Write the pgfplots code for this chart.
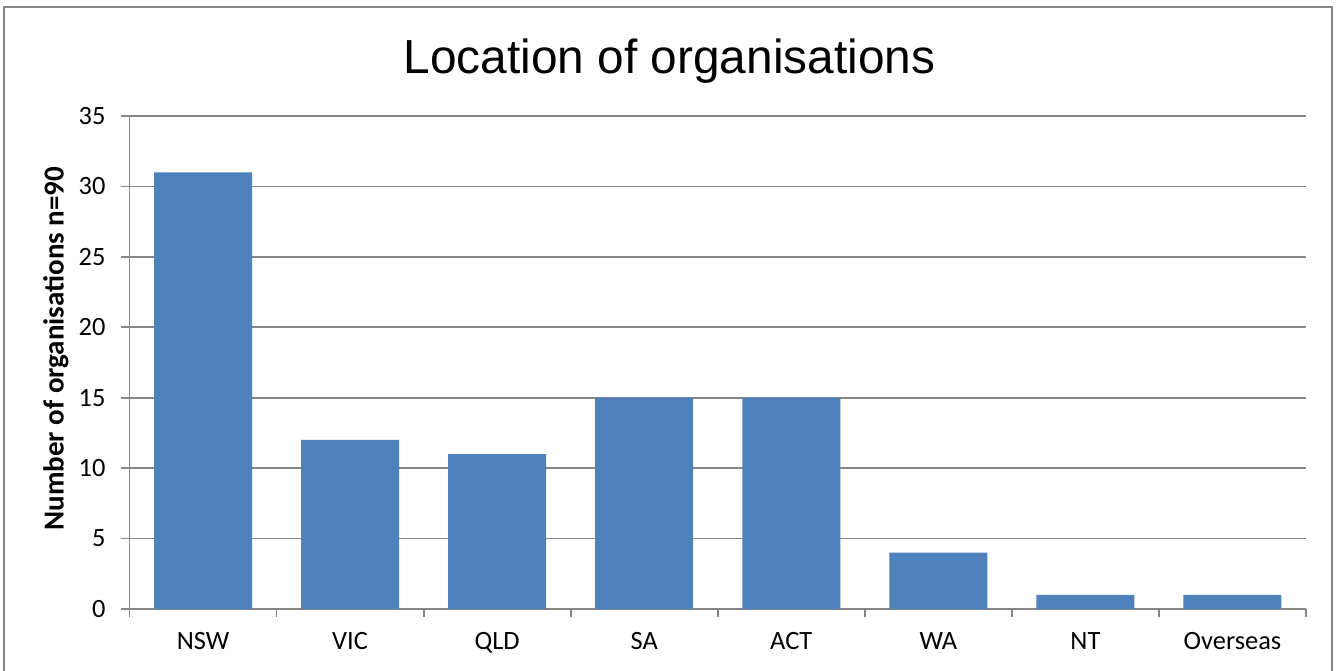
\documentclass[border=0pt]{standalone}
\usepackage{pgfplots}
\pgfplotsset{compat=1.18}
\usepackage{fontspec}
\setmainfont{Carlito}
\newfontfamily\arialfont{Liberation Sans}
\definecolor{barblue}{HTML}{4F81BD}
\definecolor{axgray}{HTML}{868686}
\begin{document}
\begin{tikzpicture}
\path[use as bounding box] (0,0) rectangle (669.5pt,-335pt);
\draw[axgray, line width=0.75pt] (2pt,-400pt) -- (2pt,-3.5pt) -- (666pt,-3.5pt) -- (666pt,-400pt);
\begin{axis}[
  at={(64.75pt,-304.5pt)}, anchor=south west,
  scale only axis, width=588.25pt, height=246.5pt,
  xmin=-0.5, xmax=7.5, ymin=0, ymax=35,
  ytick={0,5,...,35},
  xtick={-0.5,0.5,...,7.5},
  xticklabels={},
  extra x ticks={0,1,2,3,4,5,6,7},
  extra x tick labels={NSW,VIC,QLD,SA,ACT,WA,NT,Overseas},
  extra x tick style={major tick length=0pt, grid=none, xticklabel style={yshift=-8pt}},
  axis x line*=bottom, axis y line*=left,
  axis line style={axgray, line width=0.9pt},
  tick style={axgray, line width=0.9pt},
  tick align=outside,
  major tick length=4pt,
  ymajorgrids, grid style={axgray, line width=0.9pt},
  ticklabel style={font=\fontsize{13.2}{15}\selectfont, text=black},
  yticklabel style={xshift=-4.5pt},
  /pgf/number format/assume math mode=true,
  ylabel={\bfseries Number of organisations n=90},
  ylabel style={at={(axis description cs:-0.0625,0.528)}, anchor=center, font=\fontsize{14.5}{16}\selectfont},
  title={\arialfont Location of organisations},
  title style={at={(axis description cs:0.459,1.061)}, anchor=base, font=\fontsize{23.9}{28}\selectfont},
  ybar, bar width=49pt,
]
\addplot[fill=barblue, draw=none] coordinates {(0,31) (1,12) (2,11) (3,15) (4,15) (5,4) (6,1) (7,1)};
\end{axis}
\end{tikzpicture}
\end{document}
